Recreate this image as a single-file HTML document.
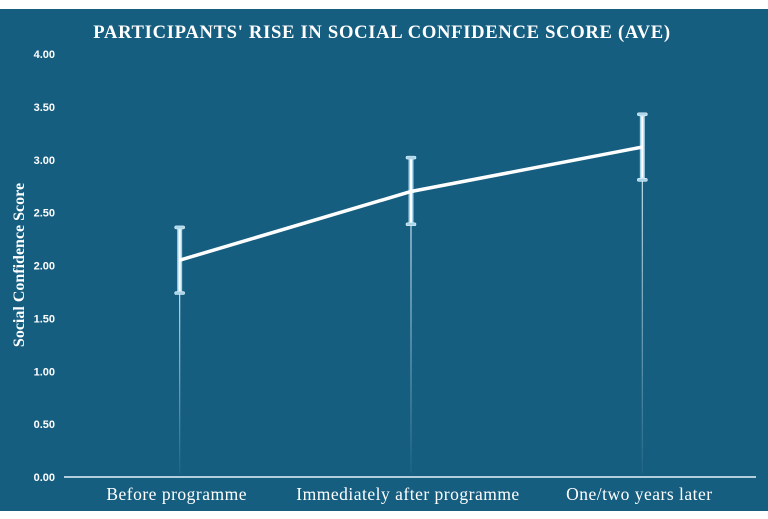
<!DOCTYPE html>
<html><head><meta charset="utf-8"><style>
html,body{margin:0;padding:0;background:#fff}
svg{display:block}
</style></head><body>
<svg id="chart" width="768" height="519" xmlns="http://www.w3.org/2000/svg">
<defs>
<linearGradient id="fade" x1="0" y1="0" x2="0" y2="1">
<stop offset="0" stop-color="#d8eef8" stop-opacity="0.9"/>
<stop offset="1" stop-color="#d8eef8" stop-opacity="0.05"/>
</linearGradient>
</defs>
<rect x="0" y="9" width="768" height="502" fill="#165e80"/>
<text x="382" y="38" text-anchor="middle" fill="#fff" font-family="Liberation Serif, serif" font-weight="bold" font-size="18.6" letter-spacing="0.7">PARTICIPANTS' RISE IN SOCIAL CONFIDENCE SCORE (AVE)</text>
<text transform="translate(24,265) rotate(-90)" text-anchor="middle" fill="#fff" font-family="Liberation Serif, serif" font-weight="bold" font-size="16">Social Confidence Score</text>
<g id="yticks"></g>
<line x1="64" y1="477" x2="756" y2="477" stroke="#e6f4fa" stroke-width="1.5"/>
<g id="drops"></g>
<g id="errs"></g>
<g id="line"></g>
<g id="xlabels"></g>
</svg>
<script>
const categories=["Before programme","Immediately after programme","One/two years later"];
const means=[2.05,2.70,3.12];
const upper=[2.36,3.02,3.43];
const lower=[1.74,2.39,2.81];
const yTicks=[0,0.5,1,1.5,2,2.5,3,3.5,4];
const yTickLabels=["0.00","0.50","1.00","1.50","2.00","2.50","3.00","3.50","4.00"];
const NS="http://www.w3.org/2000/svg";
const y0=477,y1=54,vmax=4;
function yS(v){return y0-(v/vmax)*(y0-y1);}
const xL=64,xR=758;
function xS(i){return xL+(xR-xL)*(i+0.5)/categories.length;}
function mk(t,a,p){const e=document.createElementNS(NS,t);for(const k in a)e.setAttribute(k,a[k]);p.appendChild(e);return e;}
const yt=document.getElementById('yticks');
yTicks.forEach((v,i)=>{const t=mk('text',{x:55,y:yS(v)+4,'text-anchor':'end',fill:'#fff','font-family':'Liberation Sans, sans-serif','font-weight':'bold','font-size':'11'},yt);


t.textContent=yTickLabels[i];});
const dr=document.getElementById('drops'),er=document.getElementById('errs'),xl=document.getElementById('xlabels');
categories.forEach((c,i)=>{const x=xS(i);
const d=mk('rect',{x:x-0.6,y:yS(lower[i]),width:1.2,height:y0-yS(lower[i])-4,fill:'url(#fade)'},dr);


const g=mk('g',{},er);


mk('rect',{x:x-2.5,y:yS(upper[i]),width:5,height:yS(lower[i])-yS(upper[i]),fill:'#a9d6ea'},g);
mk('rect',{x:x-1,y:yS(upper[i])+2,width:2,height:yS(lower[i])-yS(upper[i])-4,fill:'#ffffff'},g);
mk('rect',{x:x-5,y:yS(upper[i])-1.5,width:10,height:3,rx:1.5,fill:'#a9d6ea',stroke:'#e6f4fa','stroke-width':0.6},g);
mk('rect',{x:x-5,y:yS(lower[i])-1.5,width:10,height:3,rx:1.5,fill:'#a9d6ea',stroke:'#e6f4fa','stroke-width':0.6},g);
const t=mk('text',{x:x-3,y:500,'text-anchor':'middle',fill:'#fff','font-family':'Liberation Serif, serif','font-size':'17.5','letter-spacing':'0.5'},xl);


t.textContent=c;});
const pts=means.map((v,i)=>xS(i)+','+yS(v)).join(' ');
const pl=mk('polyline',{points:pts,fill:'none',stroke:'#fff','stroke-width':3.5,'stroke-linejoin':'round'},document.getElementById('line'));


</script>
</body></html>
